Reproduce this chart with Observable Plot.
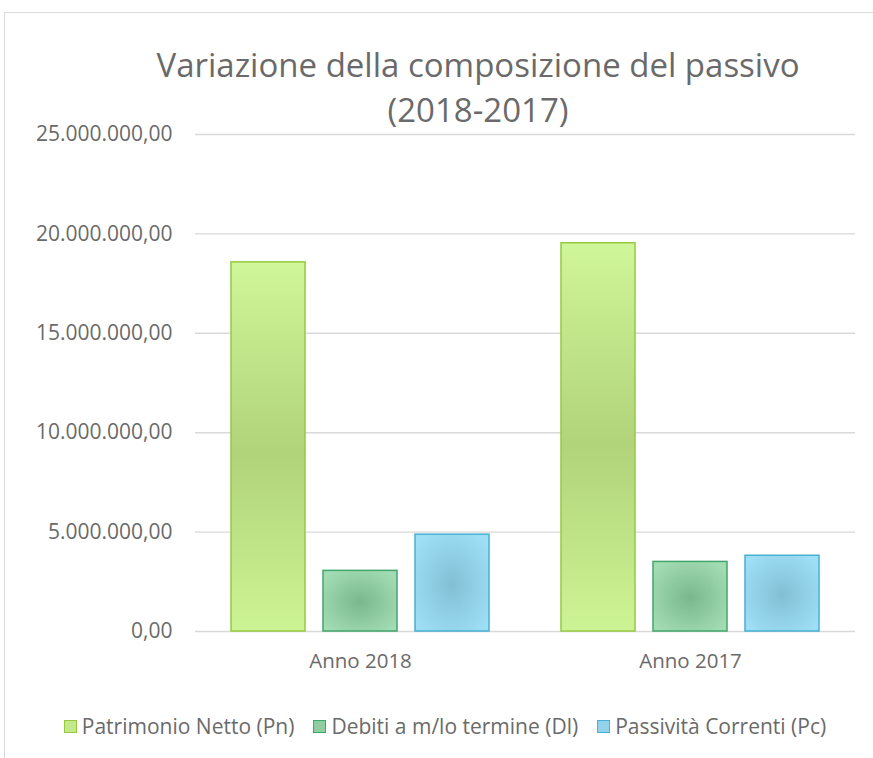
<!DOCTYPE html>
<html>
<head>
<meta charset="utf-8">
<script src="https://cdn.jsdelivr.net/npm/d3@7"></script>
<script src="https://cdn.jsdelivr.net/npm/@observablehq/plot@0.6"></script>
<style>
  html, body { margin: 0; padding: 0; background: #fff; overflow: hidden; }
  #wrap { position: relative; width: 873px; height: 758px; font-family: "Open Sans", sans-serif; color: #6a6a6a; }
  #border { position: absolute; left: 4px; top: 12px; width: 960px; height: 800px; border: 1.5px solid #d9d9d9; box-sizing: border-box; }
  .title { position: absolute; left: 0; width: 956px; text-align: center; font-size: 33px; line-height: 38px; color: #6a6a6a; white-space: nowrap; }
  #chart { position: absolute; left: 0; top: 120px; }
  #legend { position: absolute; left: 0; width: 873px; top: 712px; display: flex; justify-content: center; align-items: center; font-size: 21px; line-height: 28px; padding-left: 36px; box-sizing: border-box; }
  .item { display: flex; align-items: center; margin-right: 19px; }
  .sw { width: 11px; height: 11px; border: 1.5px solid; margin-right: 5px; }
</style>
</head>
<body>
<div id="wrap">
  <div id="border"></div>
  <div class="title" style="top:46px">Variazione della composizione del passivo</div>
  <div class="title" style="top:91px">(2018-2017)</div>
  <div id="chart"></div>
  <div id="legend"></div>
</div>
<script>
const years = ["Anno 2018", "Anno 2017"];
const series = ["Patrimonio Netto (Pn)", "Debiti a m/lo termine (Dl)", "Passività Correnti (Pc)"];
const patrimonioNetto = [18570000, 19530000];
const debitiLungo = [3050000, 3500000];
const passivitaCorrenti = [4870000, 3810000];
const yTicks = [0, 5000000, 10000000, 15000000, 20000000, 25000000];

const seriesValues = [patrimonioNetto, debitiLungo, passivitaCorrenti];
const gradIds = ["gPn", "gDl", "gPc"];
const strokes = ["#97c940", "#42a56c", "#47b0d3"];
const swatchFill = ["#c3ea8a", "#8fcca0", "#92d3eb"];

const data = [];
years.forEach((y, i) => series.forEach((s, j) => data.push({year: y, series: s, value: seriesValues[j][i], idx: j})));

const it = d3.formatLocale({decimal: ",", thousands: ".", grouping: [3], currency: ["", "€"]});
const fmt = it.format(",.2f");

const marks = [
  Plot.gridY(yTicks, {stroke: "#d9d9d9", strokeOpacity: 1, strokeWidth: 1.4}),
  Plot.axisY(yTicks, {tickFormat: fmt, tickSize: 0, tickPadding: 23, fontSize: 21, label: null}),
  Plot.axisFx({anchor: "bottom", tickSize: 0, tickPadding: 22, fontSize: 20.5, label: null}),
];
series.forEach((s, j) => {
  marks.push(Plot.barY(data.filter(d => d.series === s), {
    fx: "year", x: "series", y: "value",
    fill: `url(#${gradIds[j]})`, stroke: strokes[j], strokeWidth: 1.5
  }));
});

const chart = Plot.plot({
  width: 873,
  height: 570,
  marginLeft: 195,
  marginRight: 18,
  marginTop: 14,
  marginBottom: 59,
  style: {fontFamily: "Open Sans", color: "#6a6a6a", background: "transparent", overflow: "visible"},
  fx: {domain: years, padding: 0, label: null},
  x: {domain: series, axis: null, paddingInner: 0.196, paddingOuter: 0.39},
  y: {domain: [0, 25000000], axis: null},
  marks
});

chart.insertAdjacentHTML("afterbegin", `
<defs>
  <linearGradient id="gPn" x1="0" y1="0" x2="0" y2="1">
    <stop offset="0" stop-color="#cff698"/>
    <stop offset="0.52" stop-color="#b1d37a"/>
    <stop offset="1" stop-color="#cdf494"/>
  </linearGradient>
  <radialGradient id="gDl" cx="0.5" cy="0.52" r="0.62">
    <stop offset="0" stop-color="#79b88c"/>
    <stop offset="1" stop-color="#a3dcb3"/>
  </radialGradient>
  <radialGradient id="gPc" cx="0.5" cy="0.52" r="0.62">
    <stop offset="0" stop-color="#82bfd5"/>
    <stop offset="1" stop-color="#9edff6"/>
  </radialGradient>
</defs>`);

document.getElementById("chart").appendChild(chart);

const legend = document.getElementById("legend");
series.forEach((s, j) => {
  const item = document.createElement("div");
  item.className = "item";
  const sw = document.createElement("div");
  sw.className = "sw";
  sw.style.background = swatchFill[j];
  sw.style.borderColor = strokes[j];
  const t = document.createElement("span");
  t.textContent = s;
  item.appendChild(sw); item.appendChild(t);
  legend.appendChild(item);
});
</script>
</body>
</html>
